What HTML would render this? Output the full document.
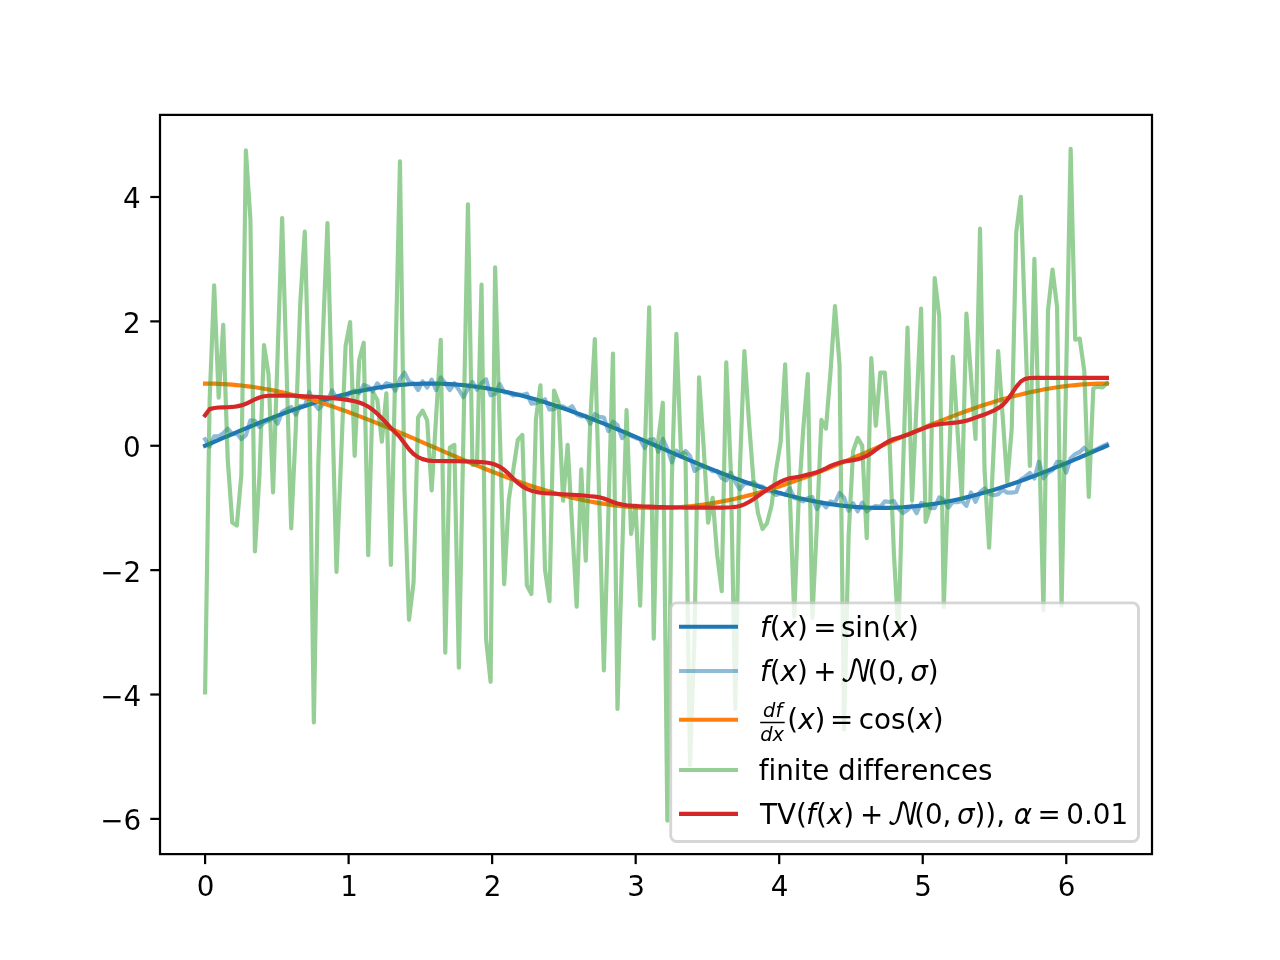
<!DOCTYPE html>
<html lang="en"><head><meta charset="utf-8"><title>TV regularized differentiation</title>
<style>html,body{margin:0;padding:0;background:#fff}body{width:1280px;height:960px;overflow:hidden}svg{display:block}text{font-family:'DejaVu Sans','Liberation Sans',sans-serif;font-size:27.78px;fill:#000;font-variant-ligatures:none;font-kerning:none}.i{font-style:oblique}.n{font-family:"DejaVu Math TeX Gyre","DejaVu Serif",serif;font-size:29px}.s{font-size:19.44px}.ln{fill:none;stroke-width:4.167;stroke-linejoin:round;stroke-linecap:square}</style></head><body>
<svg width="1280" height="960" viewBox="0 0 1280 960">
<rect width="1280" height="960" fill="#fff"/>
<g stroke="#000" stroke-width="2.222" fill="none">
<path d="M205.09 854.40v9.72"/>
<path d="M348.62 854.40v9.72"/>
<path d="M492.15 854.40v9.72"/>
<path d="M635.68 854.40v9.72"/>
<path d="M779.21 854.40v9.72"/>
<path d="M922.74 854.40v9.72"/>
<path d="M1066.26 854.40v9.72"/>
<path d="M160.00 818.90h-9.72"/>
<path d="M160.00 694.52h-9.72"/>
<path d="M160.00 570.14h-9.72"/>
<path d="M160.00 445.76h-9.72"/>
<path d="M160.00 321.38h-9.72"/>
<path d="M160.00 197.00h-9.72"/>
</g>
<g text-anchor="middle">
<text x="205.49" y="896.10">0</text>
<text x="349.02" y="896.10">1</text>
<text x="492.55" y="896.10">2</text>
<text x="636.08" y="896.10">3</text>
<text x="779.61" y="896.10">4</text>
<text x="923.14" y="896.10">5</text>
<text x="1066.66" y="896.10">6</text>
</g><g text-anchor="end">
<text x="141.20" y="830.30">−6</text>
<text x="141.20" y="705.92">−4</text>
<text x="141.20" y="581.54">−2</text>
<text x="140.60" y="457.16">0</text>
<text x="140.60" y="332.78">2</text>
<text x="140.60" y="208.40">4</text>
</g>
<clipPath id="c"><rect x="160.0" y="115.2" width="992.0" height="739.2"/></clipPath>
<g clip-path="url(#c)" class="ln">
<path stroke="#1f77b4" d="M205.09 445.76L209.62 443.80L214.15 441.84L218.69 439.88L223.22 437.93L227.75 435.98L232.28 434.05L236.81 432.13L241.34 430.22L245.88 428.32L250.41 426.45L254.94 424.59L259.47 422.76L264.00 420.94L268.54 419.16L273.07 417.40L277.60 415.66L282.13 413.96L286.66 412.29L291.19 410.65L295.73 409.05L300.26 407.48L304.79 405.95L309.32 404.46L313.85 403.02L318.38 401.61L322.92 400.25L327.45 398.94L331.98 397.67L336.51 396.45L341.04 395.27L345.58 394.15L350.11 393.08L354.64 392.07L359.17 391.10L363.70 390.19L368.23 389.34L372.77 388.54L377.30 387.80L381.83 387.12L386.36 386.49L390.89 385.93L395.42 385.42L399.96 384.98L404.49 384.59L409.02 384.27L413.55 384.01L418.08 383.80L422.61 383.66L427.15 383.59L431.68 383.57L436.21 383.62L440.74 383.73L445.27 383.90L449.81 384.13L454.34 384.42L458.87 384.78L463.40 385.19L467.93 385.67L472.46 386.20L477.00 386.80L481.53 387.45L486.06 388.16L490.59 388.93L495.12 389.76L499.65 390.64L504.19 391.58L508.72 392.57L513.25 393.61L517.78 394.71L522.31 395.85L526.85 397.05L531.38 398.30L535.91 399.59L540.44 400.93L544.97 402.31L549.50 403.73L554.04 405.20L558.57 406.71L563.10 408.26L567.63 409.84L572.16 411.46L576.69 413.12L581.23 414.81L585.76 416.53L590.29 418.27L594.82 420.05L599.35 421.85L603.88 423.67L608.42 425.52L612.95 427.38L617.48 429.27L622.01 431.17L626.54 433.09L631.08 435.01L635.61 436.95L640.14 438.90L644.67 440.86L649.20 442.82L653.73 444.78L658.27 446.74L662.80 448.70L667.33 450.66L671.86 452.62L676.39 454.57L680.92 456.51L685.46 458.43L689.99 460.35L694.52 462.25L699.05 464.14L703.58 466.00L708.12 467.85L712.65 469.67L717.18 471.47L721.71 473.25L726.24 474.99L730.77 476.71L735.31 478.40L739.84 480.06L744.37 481.68L748.90 483.26L753.43 484.81L757.96 486.32L762.50 487.79L767.03 489.21L771.56 490.59L776.09 491.93L780.62 493.22L785.15 494.47L789.69 495.67L794.22 496.81L798.75 497.91L803.28 498.95L807.81 499.94L812.35 500.88L816.88 501.76L821.41 502.59L825.94 503.36L830.47 504.07L835.00 504.72L839.54 505.32L844.07 505.85L848.60 506.33L853.13 506.74L857.66 507.10L862.19 507.39L866.73 507.62L871.26 507.79L875.79 507.90L880.32 507.95L884.85 507.93L889.39 507.86L893.92 507.72L898.45 507.51L902.98 507.25L907.51 506.93L912.04 506.54L916.58 506.10L921.11 505.59L925.64 505.03L930.17 504.40L934.70 503.72L939.23 502.98L943.77 502.18L948.30 501.33L952.83 500.42L957.36 499.45L961.89 498.44L966.42 497.37L970.96 496.25L975.49 495.07L980.02 493.85L984.55 492.58L989.08 491.27L993.62 489.91L998.15 488.50L1002.68 487.06L1007.21 485.57L1011.74 484.04L1016.27 482.47L1020.81 480.87L1025.34 479.23L1029.87 477.56L1034.40 475.86L1038.93 474.12L1043.46 472.36L1048.00 470.58L1052.53 468.76L1057.06 466.93L1061.59 465.07L1066.12 463.20L1070.66 461.30L1075.19 459.39L1079.72 457.47L1084.25 455.54L1088.78 453.59L1093.31 451.64L1097.85 449.68L1102.38 447.72L1106.91 445.76"/>
<path stroke="#1f77b4" stroke-opacity=".5" d="M205.09 439.27L209.62 446.55L214.15 436.35L218.69 436.37L223.22 433.26L227.75 428.68L232.28 434.12L236.81 433.44L241.34 439.11L245.88 435.18L250.41 420.43L254.94 420.77L259.47 427.08L264.00 422.45L268.54 420.73L273.07 417.76L277.60 423.71L282.13 411.82L286.66 409.39L291.19 406.99L295.73 414.69L300.26 405.73L304.79 405.80L309.32 391.92L313.85 403.06L318.38 409.08L322.92 404.25L327.45 401.75L331.98 390.36L336.51 398.36L341.04 398.50L345.58 398.84L350.11 392.36L354.64 390.68L359.17 393.13L363.70 384.92L368.23 386.73L372.77 391.47L377.30 383.39L381.83 388.21L386.36 383.15L390.89 384.57L395.42 390.64L399.96 379.04L404.49 372.58L409.02 381.55L413.55 383.43L418.08 389.94L422.61 381.45L427.15 387.50L431.68 379.60L436.21 390.13L440.74 377.40L445.27 383.30L449.81 390.16L454.34 383.30L458.87 389.79L463.40 397.23L467.93 388.84L472.46 381.94L477.00 389.74L481.53 383.07L486.06 379.26L490.59 395.28L495.12 393.87L499.65 384.02L504.19 392.35L508.72 392.79L513.25 395.55L517.78 394.35L522.31 395.00L526.85 393.69L531.38 403.64L535.91 403.08L540.44 401.85L544.97 399.28L549.50 409.54L554.04 409.10L558.57 405.96L563.10 406.37L567.63 409.36L572.16 406.31L576.69 414.33L581.23 416.46L585.76 415.74L590.29 423.70L594.82 414.02L599.35 416.93L603.88 417.64L608.42 431.08L612.95 421.70L617.48 425.23L622.01 438.17L626.54 432.38L631.08 435.76L635.61 437.90L640.14 439.36L644.67 447.97L649.20 439.84L653.73 439.20L658.27 451.81L662.80 438.80L667.33 448.88L671.86 462.45L676.39 450.77L680.92 455.36L685.46 450.96L689.99 455.88L694.52 470.95L699.05 467.84L703.58 466.48L708.12 467.85L712.65 471.21L717.18 471.19L721.71 478.03L726.24 480.43L730.77 472.72L735.31 482.04L739.84 489.34L744.37 483.66L748.90 483.40L753.43 482.21L757.96 485.65L762.50 486.57L767.03 491.03L771.56 491.59L776.09 494.97L780.62 493.24L785.15 494.91L789.69 488.21L794.22 497.92L798.75 499.06L803.28 501.44L807.81 498.07L812.35 497.14L816.88 508.99L821.41 502.35L825.94 507.38L830.47 501.46L835.00 502.75L839.54 492.82L844.07 497.60L848.60 510.88L853.13 503.21L857.66 511.33L862.19 502.60L866.73 511.41L871.26 508.28L875.79 505.94L880.32 506.83L884.85 501.37L889.39 502.02L893.92 501.03L898.45 508.63L902.98 512.99L907.51 509.94L912.04 505.55L916.58 513.19L921.11 502.99L925.64 504.33L930.17 507.86L934.70 508.05L939.23 497.36L943.77 499.74L948.30 507.69L952.83 501.93L957.36 502.26L961.89 500.76L966.42 505.86L970.96 492.43L975.49 501.78L980.02 492.09L984.55 488.43L989.08 493.78L993.62 495.29L998.15 494.24L1002.68 489.78L1007.21 492.70L1011.74 492.57L1016.27 491.99L1020.81 479.59L1025.34 476.70L1029.87 472.91L1034.40 478.45L1038.93 461.65L1043.46 478.26L1048.00 472.57L1052.53 470.25L1057.06 461.94L1061.59 462.01L1066.12 472.51L1070.66 458.21L1075.19 454.18L1079.72 452.00L1084.25 447.79L1088.78 452.79L1093.31 450.64L1097.85 448.68L1102.38 446.22L1106.91 444.26"/>
<path stroke="#ff7f0e" d="M205.09 383.57L209.62 383.60L214.15 383.69L218.69 383.85L223.22 384.07L227.75 384.34L232.28 384.68L236.81 385.08L241.34 385.54L245.88 386.06L250.41 386.64L254.94 387.28L259.47 387.98L264.00 388.74L268.54 389.55L273.07 390.42L277.60 391.34L282.13 392.32L286.66 393.35L291.19 394.43L295.73 395.56L300.26 396.75L304.79 397.98L309.32 399.26L313.85 400.59L318.38 401.96L322.92 403.37L327.45 404.83L331.98 406.33L336.51 407.87L341.04 409.44L345.58 411.06L350.11 412.70L354.64 414.38L359.17 416.09L363.70 417.83L368.23 419.60L372.77 421.40L377.30 423.21L381.83 425.05L386.36 426.92L390.89 428.80L395.42 430.69L399.96 432.61L404.49 434.53L409.02 436.47L413.55 438.41L418.08 440.37L422.61 442.33L427.15 444.29L431.68 446.25L436.21 448.21L440.74 450.17L445.27 452.13L449.81 454.08L454.34 456.02L458.87 457.95L463.40 459.87L467.93 461.78L472.46 463.67L477.00 465.54L481.53 467.39L486.06 469.22L490.59 471.03L495.12 472.81L499.65 474.56L504.19 476.29L508.72 477.98L513.25 479.64L517.78 481.27L522.31 482.87L526.85 484.43L531.38 485.94L535.91 487.42L540.44 488.86L544.97 490.25L549.50 491.60L554.04 492.91L558.57 494.16L563.10 495.37L567.63 496.53L572.16 497.64L576.69 498.70L581.23 499.70L585.76 500.65L590.29 501.55L594.82 502.39L599.35 503.17L603.88 503.90L608.42 504.56L612.95 505.17L617.48 505.72L622.01 506.21L626.54 506.64L631.08 507.01L635.61 507.32L640.14 507.57L644.67 507.76L649.20 507.88L653.73 507.94L658.27 507.94L662.80 507.88L667.33 507.76L671.86 507.57L676.39 507.32L680.92 507.01L685.46 506.64L689.99 506.21L694.52 505.72L699.05 505.17L703.58 504.56L708.12 503.90L712.65 503.17L717.18 502.39L721.71 501.55L726.24 500.65L730.77 499.70L735.31 498.70L739.84 497.64L744.37 496.53L748.90 495.37L753.43 494.16L757.96 492.91L762.50 491.60L767.03 490.25L771.56 488.86L776.09 487.42L780.62 485.94L785.15 484.43L789.69 482.87L794.22 481.27L798.75 479.64L803.28 477.98L807.81 476.29L812.35 474.56L816.88 472.81L821.41 471.03L825.94 469.22L830.47 467.39L835.00 465.54L839.54 463.67L844.07 461.78L848.60 459.87L853.13 457.95L857.66 456.02L862.19 454.08L866.73 452.13L871.26 450.17L875.79 448.21L880.32 446.25L884.85 444.29L889.39 442.33L893.92 440.37L898.45 438.41L902.98 436.47L907.51 434.53L912.04 432.61L916.58 430.69L921.11 428.80L925.64 426.92L930.17 425.05L934.70 423.21L939.23 421.40L943.77 419.60L948.30 417.83L952.83 416.09L957.36 414.38L961.89 412.70L966.42 411.06L970.96 409.44L975.49 407.87L980.02 406.33L984.55 404.83L989.08 403.37L993.62 401.96L998.15 400.59L1002.68 399.26L1007.21 397.98L1011.74 396.75L1016.27 395.56L1020.81 394.43L1025.34 393.35L1029.87 392.32L1034.40 391.34L1038.93 390.42L1043.46 389.55L1048.00 388.74L1052.53 387.98L1057.06 387.28L1061.59 386.64L1066.12 386.06L1070.66 385.54L1075.19 385.08L1079.72 384.68L1084.25 384.34L1088.78 384.07L1093.31 383.85L1097.85 383.69L1102.38 383.60L1106.91 383.57"/>
<path stroke="#2ca02c" stroke-opacity=".5" d="M205.09 692.50L209.62 400.00L214.15 285.40L218.69 397.60L223.22 324.90L227.75 460.00L232.28 522.50L236.81 525.50L241.34 475.00L245.88 150.40L250.41 219.70L254.94 551.40L259.47 475.00L264.00 345.10L268.54 374.40L273.07 492.30L277.60 355.15L282.13 218.00L286.66 373.15L291.19 528.30L295.73 430.00L300.26 303.00L304.79 231.70L309.32 400.00L313.85 722.50L318.38 462.00L322.92 335.00L327.45 223.10L331.98 397.55L336.51 572.00L341.04 459.00L345.58 346.00L350.11 322.10L354.64 455.80L359.17 360.30L363.70 342.70L368.23 555.10L372.77 392.00L377.30 399.70L381.83 441.70L386.36 393.30L390.89 564.90L395.42 363.10L399.96 161.30L404.49 490.00L409.02 619.80L413.55 582.50L418.08 417.50L422.61 410.60L427.15 420.30L431.68 490.40L436.21 415.15L440.74 339.90L445.27 652.60L449.81 447.50L454.34 444.90L458.87 667.60L463.40 435.95L467.93 204.30L472.46 465.00L477.00 464.00L481.53 284.60L486.06 639.00L490.59 681.70L495.12 267.30L499.65 425.75L504.19 584.20L508.72 500.00L513.25 470.00L517.78 440.00L522.31 434.90L526.85 585.30L531.38 594.00L535.91 419.40L540.44 385.40L544.97 569.40L549.50 601.10L554.04 390.50L558.57 402.50L563.10 500.75L567.63 444.90L572.16 525.80L576.69 606.70L581.23 469.25L585.76 560.75L590.29 420.00L594.82 339.00L599.35 504.70L603.88 670.40L608.42 512.00L612.95 353.60L617.48 708.90L622.01 559.55L626.54 410.20L631.08 533.90L635.61 505.60L640.14 605.75L644.67 456.57L649.20 307.40L653.73 638.60L658.27 440.00L662.80 402.70L667.33 820.60L671.86 479.00L676.39 333.80L680.92 452.00L685.46 454.00L689.99 765.10L694.52 635.00L699.05 377.40L703.58 445.60L708.12 522.70L712.65 497.90L717.18 555.00L721.71 591.10L726.24 362.40L730.77 470.00L735.31 708.90L739.84 470.00L744.37 351.00L748.90 421.00L753.43 480.00L757.96 513.00L762.50 528.90L767.03 523.30L771.56 505.60L776.09 470.00L780.62 441.90L785.15 364.25L789.69 490.18L794.22 616.10L798.75 498.00L803.28 428.75L807.81 374.20L812.35 617.90L816.88 525.00L821.41 419.90L825.94 428.60L830.47 372.50L835.00 306.10L839.54 365.00L844.07 729.50L848.60 536.00L853.13 451.00L857.66 437.90L862.19 445.60L866.73 538.25L871.26 358.10L875.79 425.75L880.32 372.70L884.85 372.70L889.39 440.00L893.92 554.00L898.45 634.80L902.98 470.00L907.51 327.70L912.04 500.75L916.58 404.68L921.11 308.60L925.64 521.90L930.17 507.50L934.70 278.00L939.23 316.25L943.77 607.20L948.30 481.98L952.83 356.75L957.36 427.82L961.89 498.90L966.42 313.60L970.96 376.25L975.49 438.90L980.02 228.70L984.55 470.00L989.08 547.60L993.62 449.35L998.15 351.10L1002.68 416.55L1007.21 482.00L1011.74 428.75L1016.27 231.90L1020.81 196.80L1025.34 331.40L1029.87 466.00L1034.40 258.90L1038.93 434.65L1043.46 610.40L1048.00 310.60L1052.53 269.60L1057.06 306.90L1061.59 605.75L1066.12 377.27L1070.66 148.80L1075.19 339.70L1079.72 338.60L1084.25 370.60L1088.78 497.00L1093.31 388.40L1097.85 386.60L1102.38 387.50L1106.91 383.20"/>
<path stroke="#d62728" d="M205.09 415.31L209.62 409.11L214.15 407.99L218.69 407.50L223.22 407.39L227.75 407.24L232.28 406.95L236.81 406.36L241.34 405.41L245.88 403.81L250.41 401.52L254.94 399.31L259.47 397.45L264.00 396.30L268.54 395.79L273.07 395.67L277.60 395.63L282.13 395.62L286.66 395.62L291.19 395.70L295.73 395.89L300.26 396.09L304.79 396.33L309.32 396.55L313.85 396.78L318.38 397.04L322.92 397.35L327.45 397.69L331.98 398.06L336.51 398.50L341.04 399.02L345.58 399.63L350.11 400.37L354.64 401.26L359.17 402.44L363.70 404.22L368.23 406.62L372.77 409.74L377.30 413.76L381.83 418.14L386.36 422.98L390.89 428.09L395.42 432.63L399.96 437.14L404.49 443.17L409.02 449.27L413.55 453.95L418.08 457.15L422.61 459.12L427.15 460.32L431.68 460.81L436.21 460.97L440.74 461.03L445.27 461.08L449.81 461.13L454.34 461.18L458.87 461.24L463.40 461.36L467.93 461.53L472.46 461.67L477.00 461.82L481.53 462.08L486.06 462.49L490.59 463.22L495.12 464.53L499.65 466.68L504.19 469.83L508.72 473.92L513.25 478.55L517.78 482.94L522.31 486.36L526.85 488.88L531.38 490.66L535.91 491.86L540.44 492.70L544.97 493.23L549.50 493.54L554.04 493.79L558.57 494.03L563.10 494.25L567.63 494.47L572.16 494.72L576.69 494.99L581.23 495.31L585.76 495.73L590.29 496.21L594.82 496.67L599.35 497.23L603.88 498.49L608.42 500.23L612.95 502.03L617.48 503.43L622.01 504.48L626.54 505.20L631.08 505.68L635.61 506.02L640.14 506.26L644.67 506.47L649.20 506.67L653.73 506.87L658.27 507.05L662.80 507.20L667.33 507.31L671.86 507.40L676.39 507.48L680.92 507.54L685.46 507.60L689.99 507.64L694.52 507.66L699.05 507.66L703.58 507.66L708.12 507.66L712.65 507.65L717.18 507.61L721.71 507.55L726.24 507.47L730.77 507.28L735.31 506.93L739.84 505.99L744.37 504.35L748.90 502.02L753.43 499.17L757.96 496.00L762.50 492.79L767.03 489.68L771.56 486.76L776.09 484.07L780.62 481.68L785.15 479.72L789.69 478.34L794.22 477.45L798.75 476.76L803.28 475.79L807.81 474.62L812.35 473.48L816.88 472.19L821.41 470.46L825.94 468.29L830.47 465.97L835.00 464.13L839.54 462.65L844.07 461.50L848.60 460.83L853.13 460.12L857.66 459.21L862.19 457.92L866.73 455.95L871.26 453.15L875.79 449.75L880.32 446.57L884.85 443.48L889.39 440.92L893.92 439.00L898.45 437.64L902.98 436.33L907.51 434.85L912.04 433.00L916.58 431.18L921.11 429.35L925.64 427.57L930.17 425.93L934.70 424.84L939.23 424.17L943.77 423.75L948.30 423.30L952.83 422.86L957.36 422.36L961.89 421.67L966.42 420.65L970.96 419.28L975.49 417.64L980.02 416.07L984.55 414.42L989.08 412.66L993.62 410.69L998.15 408.19L1002.68 404.97L1007.21 400.09L1011.74 393.69L1016.27 386.84L1020.81 381.51L1025.34 378.83L1029.87 377.99L1034.40 377.85L1038.93 377.81L1043.46 377.81L1048.00 377.81L1052.53 377.81L1057.06 377.81L1061.59 377.81L1066.12 377.81L1070.66 377.81L1075.19 377.81L1079.72 377.81L1084.25 377.81L1088.78 377.81L1093.31 377.81L1097.85 377.81L1102.38 377.81L1106.91 377.81"/>
</g>
<rect x="160.00" y="114.90" width="992.00" height="739.20" fill="none" stroke="#000" stroke-width="2.222"/>
<rect x="670.70" y="602.85" width="467.80" height="238.70" rx="6" ry="6" fill="#fff" stroke="#ccc" stroke-width="2.9" opacity=".8"/>
<path d="M681.11 626.75H735.92" stroke="#1f77b4" stroke-width="4.167" stroke-linecap="square" fill="none"/>
<path d="M681.11 671.00H735.92" stroke="#1f77b4" stroke-opacity=".5" stroke-width="4.167" stroke-linecap="square" fill="none"/>
<path d="M681.11 719.75H735.92" stroke="#ff7f0e" stroke-width="4.167" stroke-linecap="square" fill="none"/>
<path d="M681.11 770.00H735.92" stroke="#2ca02c" stroke-opacity=".5" stroke-width="4.167" stroke-linecap="square" fill="none"/>
<path d="M681.11 813.90H735.92" stroke="#d62728" stroke-width="4.167" stroke-linecap="square" fill="none"/>
<text><tspan x="760.00" y="637.20" class="i">f</tspan><tspan x="769.78" y="637.20">(</tspan><tspan x="780.62" y="637.20" class="i">x</tspan><tspan x="797.05" y="637.20">)</tspan> <tspan x="813.30" y="637.20">=</tspan> <tspan x="840.89" y="637.20">sin(</tspan><tspan x="891.50" y="637.20" class="i">x</tspan><tspan x="907.94" y="637.20">)</tspan></text>
<text><tspan x="760.00" y="680.60" class="i">f</tspan><tspan x="769.78" y="680.60">(</tspan><tspan x="780.62" y="680.60" class="i">x</tspan><tspan x="797.05" y="680.60">)</tspan> <tspan x="813.30" y="680.60">+</tspan> <tspan x="839.99" y="680.60" class="n">𝒩</tspan><tspan x="867.58" y="680.60">(0,</tspan> <tspan x="910.14" y="680.60" class="i">σ</tspan><tspan x="927.64" y="680.60">)</tspan></text>
<text><tspan x="763.06" y="717.26" class="i s">df</tspan><tspan x="760.28" y="740.98" class="i s">dx</tspan><tspan x="787.32" y="728.90">(</tspan><tspan x="798.16" y="728.90" class="i">x</tspan><tspan x="814.60" y="728.90">)</tspan> <tspan x="830.00" y="728.90">=</tspan> <tspan x="858.69" y="728.90">cos(</tspan><tspan x="916.28" y="728.90" class="i">x</tspan><tspan x="932.72" y="728.90">)</tspan></text>
<rect x="760.20" y="721.75" width="24.50" height="1.50" fill="#000"/>
<text x="758.80" y="779.70" letter-spacing="-.045">finite differences</text>
<text><tspan x="760.00" y="823.50">TV(</tspan><tspan x="806.11" y="823.50" class="i">f</tspan><tspan x="815.89" y="823.50">(</tspan><tspan x="826.72" y="823.50" class="i">x</tspan><tspan x="843.17" y="823.50">)</tspan> <tspan x="860.11" y="823.50">+</tspan> <tspan x="886.80" y="823.50" class="n">𝒩</tspan><tspan x="914.14" y="823.50">(0,</tspan> <tspan x="956.89" y="823.50" class="i">σ</tspan><tspan x="974.50" y="823.50">)),</tspan> <tspan x="1013.83" y="823.50" class="i">α</tspan> <tspan x="1037.56" y="823.50">=</tspan> <tspan x="1066.22" y="823.50">0.01</tspan></text>
</svg></body></html>
